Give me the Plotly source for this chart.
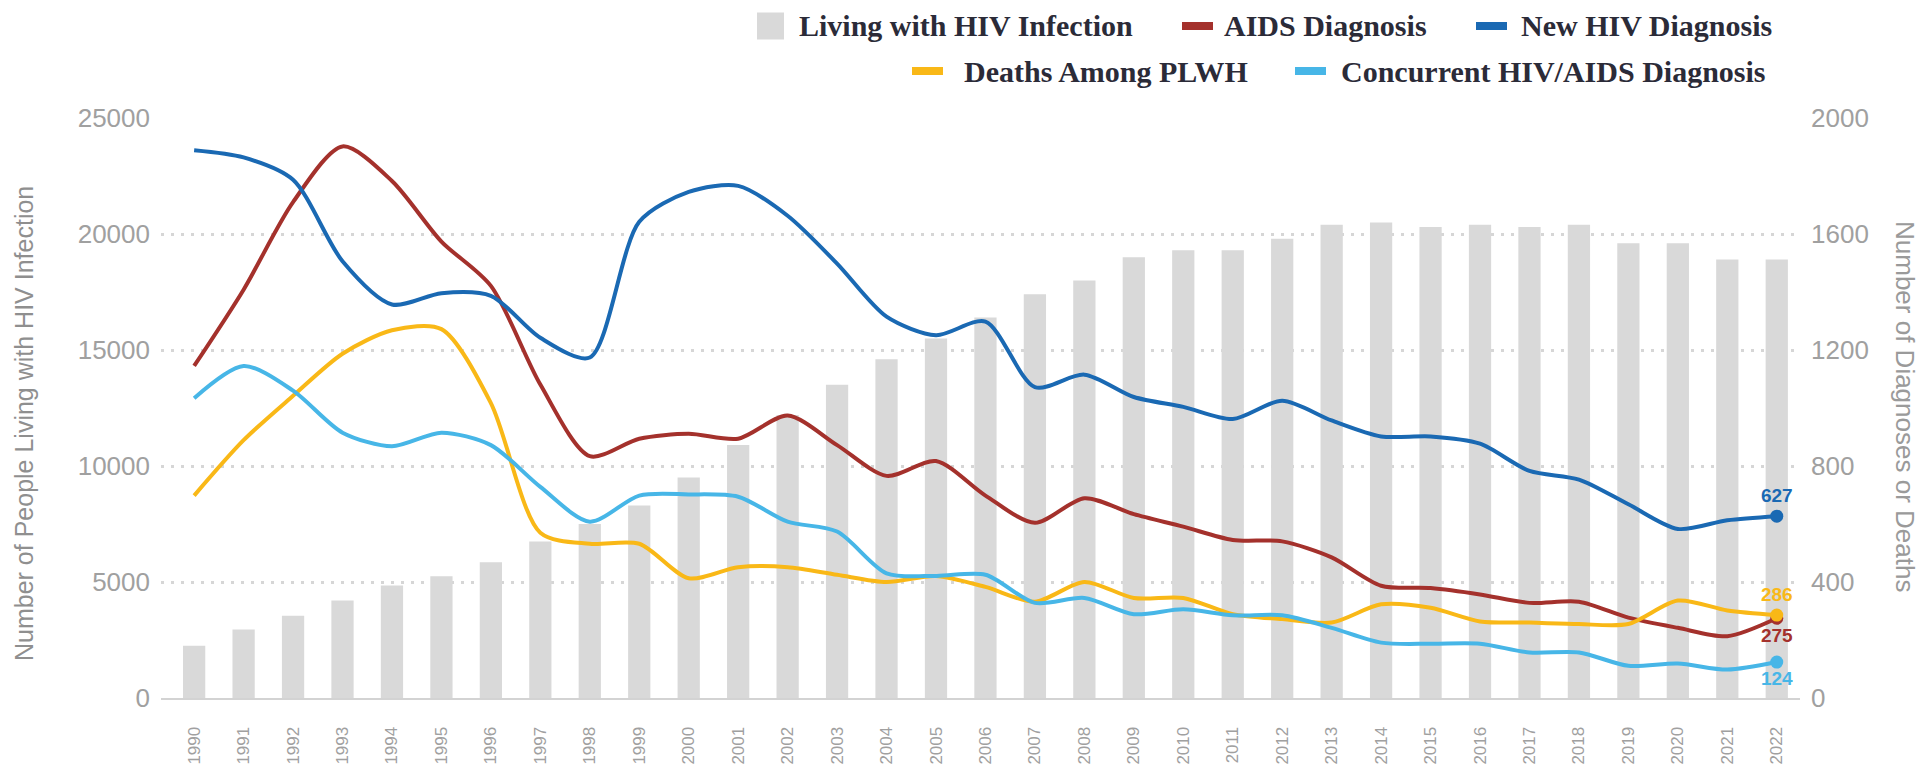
import plotly.graph_objects as go

years = list(range(1990, 2023))
year_labels = [str(y) for y in years]

living_hiv = [2250, 2950, 3550, 4200, 4850, 5250, 5850, 6750, 7500, 8300,
              9500, 10900, 12200, 13500, 14600, 15500, 16400, 17400, 18000, 19000,
              19300, 19300, 19800, 20400, 20500, 20300, 20400, 20300, 20400, 19600,
              19600, 18900, 18900]

aids_dx = [1145, 1408, 1710, 1902, 1783, 1574, 1421, 1081, 834, 894,
           911, 894, 974, 872, 766, 817, 698, 604, 689, 634,
           591, 545, 540, 485, 387, 379, 357, 328, 332, 277,
           242, 213, 275]

new_hiv_dx = [1889, 1864, 1787, 1506, 1357, 1396, 1387, 1242, 1174, 1642,
              1745, 1766, 1663, 1498, 1315, 1251, 1298, 1072, 1115, 1038,
              1004, 962, 1025, 957, 902, 902, 877, 783, 753, 668,
              583, 613, 627]

deaths_plwh = [698, 889, 1042, 1187, 1268, 1272, 1017, 570, 532, 532,
               413, 451, 451, 425, 400, 421, 383, 332, 400, 345,
               345, 289, 272, 260, 323, 311, 264, 260, 255, 255,
               336, 302, 286]

concurrent_dx = [1034, 1145, 1060, 915, 868, 915, 872, 728, 608, 698,
                 702, 694, 608, 574, 430, 421, 425, 328, 345, 289,
                 306, 285, 285, 242, 191, 187, 187, 157, 157, 111,
                 119, 98, 124]

series = [
    ("AIDS Diagnosis", aids_dx, "#a4312c", "bottom center"),
    ("New HIV Diagnosis", new_hiv_dx, "#1a69b3", "top center"),
    ("Deaths Among PLWH", deaths_plwh, "#f9b817", "top center"),
    ("Concurrent HIV/AIDS Diagnosis", concurrent_dx, "#47b6e7", "bottom center"),
]

W, H = 1929, 764
ML, MR, MT, MB = 161, 129, 118, 66
PW = W - ML - MR
PH = H - MT - MB

def px_x(p):
    return (p - ML) / PW

def px_y(p):
    return (H - MB - p) / PH

SANS = "Liberation Sans, Arial, sans-serif"
SERIF = "Liberation Serif, Times New Roman, serif"
TICK_GREY = "#a0a0a0"

fig = go.Figure()

fig.add_trace(go.Bar(
    x=years, y=living_hiv, name="Living with HIV Infection",
    marker=dict(color="#d9d9d9", line=dict(width=0)),
    width=0.45, yaxis="y", showlegend=False,
))

for name, vals, color, pos in series:
    fig.add_trace(go.Scatter(
        x=years, y=vals, name=name, mode="lines",
        line=dict(color=color, width=4, shape="spline", smoothing=0.8),
        yaxis="y2", showlegend=False,
    ))
    fig.add_trace(go.Scatter(
        x=[years[-1]], y=[vals[-1]], mode="markers+text",
        text=[str(vals[-1])], textposition=pos,
        textfont=dict(family=SANS, size=19, color=color, weight="bold"),
        marker=dict(color=color, size=13),
        yaxis="y2", showlegend=False, hoverinfo="skip",
    ))

fig.update_layout(
    width=W, height=H,
    margin=dict(l=ML, r=MR, t=MT, b=MB, autoexpand=False),
    paper_bgcolor="white", plot_bgcolor="white",
    xaxis=dict(
        range=[years[0] - 0.67, years[-1] + 0.47],
        tickmode="array", tickvals=years, ticktext=year_labels,
        tickangle=-90, tickfont=dict(family=SANS, size=17, color=TICK_GREY),
        showgrid=False, zeroline=False, showline=True,
        linecolor="#d3d3d3", linewidth=2, ticks="", ticklabelstandoff=20,
    ),
    yaxis=dict(
        range=[0, 25000], dtick=5000, tick0=0, tickformat="d",
        tickfont=dict(family=SANS, size=26, color=TICK_GREY),
        showgrid=True, gridcolor="#d6d6d6", gridwidth=3, griddash="3px,7px",
        zeroline=False, showline=False, ticks="", ticklabelstandoff=10,
    ),
    yaxis2=dict(
        range=[0, 2000], dtick=400, tick0=0, tickformat="d",
        overlaying="y", side="right",
        tickfont=dict(family=SANS, size=26, color=TICK_GREY),
        showgrid=False, zeroline=False, showline=False, ticks="", ticklabelstandoff=10,
    ),
    showlegend=False,
)

annotations = [
    dict(text="Number of People Living with HIV Infection", x=px_x(24), y=px_y(424),
         xref="paper", yref="paper", textangle=-90, showarrow=False,
         xanchor="center", yanchor="middle",
         font=dict(family=SANS, size=25, color="#8f8f8f")),
    dict(text="Number of Diagnoses or Deaths", x=px_x(1905), y=px_y(406),
         xref="paper", yref="paper", textangle=90, showarrow=False,
         xanchor="center", yanchor="middle",
         font=dict(family=SANS, size=26, color="#9a9a9a")),
]

shapes = []
# custom legend
legend_items = [
    ("Living with HIV Infection", "#d9d9d9", "box", 757, 797, 26),
    ("AIDS Diagnosis", series[0][2], "line", 1182, 1222, 26),
    ("New HIV Diagnosis", series[1][2], "line", 1476, 1519, 26),
    ("Deaths Among PLWH", series[2][2], "line", 912, 962, 71),
    ("Concurrent HIV/AIDS Diagnosis", series[3][2], "line", 1295, 1339, 71),
]
for label, color, kind, sx, tx, cy in legend_items:
    if kind == "box":
        shapes.append(dict(type="rect", xref="paper", yref="paper",
                           x0=px_x(sx), x1=px_x(sx + 27), y0=px_y(cy + 13.5), y1=px_y(cy - 13.5),
                           fillcolor=color, line=dict(width=0)))
    else:
        shapes.append(dict(type="line", xref="paper", yref="paper",
                           x0=px_x(sx), x1=px_x(sx + 31), y0=px_y(cy), y1=px_y(cy),
                           line=dict(color=color, width=8)))
    annotations.append(dict(text=label, x=px_x(tx), y=px_y(cy), xref="paper", yref="paper",
                            showarrow=False, xanchor="left", yanchor="middle",
                            font=dict(family=SERIF, size=30, color="#2b2b38", weight="bold")))

fig.update_layout(annotations=annotations, shapes=shapes)

fig.write_html("out.html", config={"displayModeBar": False},
               post_script="document.body.style.margin='0';document.body.style.overflow='hidden';")
